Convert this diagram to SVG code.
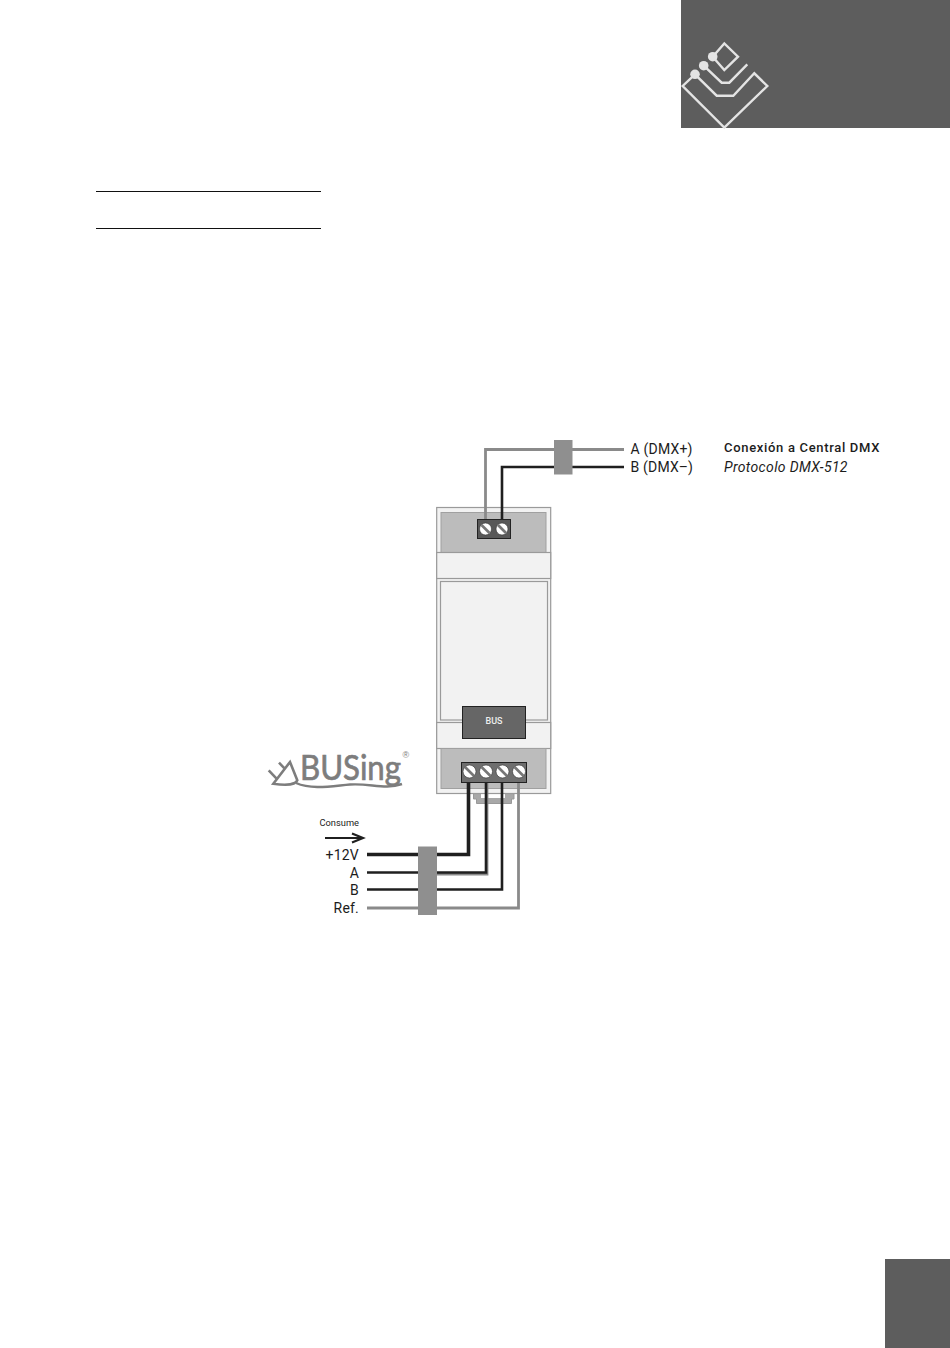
<svg xmlns="http://www.w3.org/2000/svg" width="950" height="1348" viewBox="0 0 950 1348">
<style>
.t{font-family:Roboto,"Liberation Sans",Arial,sans-serif;fill:#1c1c1c}
.lab{font-size:14px;letter-spacing:.2px}
.end{text-anchor:end}
.w{fill:none;stroke-linejoin:miter}
.blk{stroke:#1f1f1f;stroke-width:2.6}
.blkT{stroke:#1f1f1f;stroke-width:3.6}
.gry{stroke:#8a8a8a;stroke-width:2.8}
.lg{fill:none;stroke:#e4e4e4;stroke-width:2.4}
.dv{fill:#f2f2f2;stroke:#9a9a9a;stroke-width:1.2}
.scr{fill:#fff;stroke:#333;stroke-width:.6}
.sl{stroke:#777;stroke-width:2.6}
.blockc{fill:#8f8f8f}
</style>
<rect width="950" height="1348" fill="#fff"/>
<g id="header">
<rect x="681" y="0" width="269" height="128" fill="#5d5d5d"/>
<g class="lg">
<path d="M712.7 56.7L724.3 43.5L738 56.7L724.3 70L712.7 56.7"/>
<path d="M703.7 65.7L721.7 82.7H729.3L747.3 64.3"/>
<path d="M695 74.3L716.7 95.700H733.3L754.3 73.3L767.3 86L724.3 127.500L682.7 86L695 74.3"/>
</g>
<circle cx="712.7" cy="56.7" r="4.8" fill="#e4e4e4"/>
<circle cx="703.7" cy="65.7" r="4.8" fill="#e4e4e4"/>
<circle cx="695" cy="74.3" r="4.8" fill="#e4e4e4"/>
</g>
<g id="rules" stroke="#111" stroke-width="1">
<line x1="96" y1="191.500" x2="321" y2="191.500"/>
<line x1="96" y1="228.500" x2="321" y2="228.500"/>
</g>
<rect id="page-tab" x="885" y="1259" width="65" height="89" fill="#5d5d5d"/>
<g id="din-clip">
<path d="M473.500 793.500V799H476.500V803.500H511.500V799H514V793.500" fill="#a8a8a8" stroke="#999" stroke-width="1"/>
<rect x="481" y="793" width="24" height="5" fill="#fff"/>
</g>
<g id="device">
<rect class="dv" x="436.700" y="507.500" width="114" height="286"/>
<rect x="441" y="512.500" width="105" height="40" fill="#bcbcbc" stroke="#a0a0a0"/>
<rect class="dv" x="436.700" y="552.500" width="114" height="26"/>
<rect class="dv" x="440.500" y="581.500" width="107" height="138.500"/>
<rect class="dv" x="436.700" y="722.500" width="114" height="26"/>
<rect x="441" y="748.500" width="105" height="40" fill="#bcbcbc" stroke="#a0a0a0"/>
</g>
<g id="bus-module">
<rect x="462.500" y="706.500" width="63" height="32" fill="#666" stroke="#222"/>
<text x="494" y="724" class="t" text-anchor="middle" font-size="9" font-weight="500" style="fill:#eee">BUS</text>
</g>
<g id="terminal-top">
<rect x="477.500" y="519.500" width="33" height="19" fill="#585858" stroke="#222"/>
<circle class="scr" cx="485.500" cy="529" r="6"/><line class="sl" x1="481.500" y1="525" x2="489.500" y2="533"/>
<circle class="scr" cx="502" cy="529" r="6"/><line class="sl" x1="498" y1="525" x2="506" y2="533"/>
</g>
<g id="terminal-bottom">
<rect x="461.500" y="762.500" width="65" height="20" fill="#6e6e6e" stroke="#222"/>
<circle class="scr" cx="469.500" cy="771.500" r="6.500"/><line class="sl" x1="465" y1="767" x2="474" y2="776"/>
<circle class="scr" cx="486" cy="771.500" r="6.500"/><line class="sl" x1="481.500" y1="767" x2="490.500" y2="776"/>
<circle class="scr" cx="502.500" cy="771.500" r="6.500"/><line class="sl" x1="498" y1="767" x2="507" y2="776"/>
<circle class="scr" cx="519" cy="771.500" r="6.500"/><line class="sl" x1="514.500" y1="767" x2="523.500" y2="776"/>
</g>
<g id="connectors">
<path class="w gry" d="M485.500 519V449.500H624"/>
<path class="w blk" d="M502 519V467H624"/>
<path class="w blkT" d="M367 854.500H468.500V783"/>
<path class="w gry" d="M487 783V874H437" stroke-width="1.500"/>
<path class="w blk" d="M367 872.500H486V783"/>
<path class="w blk" d="M367 889.500H502V783"/>
<path class="w gry" d="M367 908H518.500V783"/>
<path class="w" stroke="#1f1f1f" stroke-width="2" d="M325 838H362"/>
<path class="w" stroke="#1f1f1f" stroke-width="2.200" d="M352 833.500L363 838L352 842.500"/>
</g>
<g id="junction-top"><rect class="blockc" x="554" y="440" width="18.500" height="34.500"/></g>
<g id="junction-bottom"><rect class="blockc" x="418" y="846.500" width="19" height="68.500"/></g>
<g id="labels-right">
<text class="t lab" x="630.500" y="454">A (DMX+)</text>
<text class="t lab" x="630.500" y="472">B (DMX–)</text>
<text class="t" x="724" y="451.500" font-size="13" font-weight="500" letter-spacing=".68">Conexión a Central DMX</text>
<text class="t" x="724" y="472" font-size="14" font-style="italic" letter-spacing=".35">Protocolo DMX-512</text>
</g>
<g id="labels-left">
<text class="t" x="359" y="826" font-size="9.300" text-anchor="end">Consume</text>
<text class="t lab end" x="359" y="860">+12V</text>
<text class="t lab end" x="359" y="877.500">A</text>
<text class="t lab end" x="359" y="895">B</text>
<text class="t lab end" x="359" y="913">Ref.</text>
</g>
<g id="busing-logo" fill="none" stroke="#7d7d7d">
<text x="300" y="780" font-family="Lato,'Open Sans',sans-serif" font-size="34" textLength="101" lengthAdjust="spacingAndGlyphs" stroke-width=".7" style="fill:#7d7d7d">BUSing</text>
<path d="M268.700 770.300L277.300 779.300M279 762.700L284.700 768.700M273.300 783.700L290 762L297.300 780.300C296 784 288 786 273.300 783.700Z" stroke-width="2.600"/>
<path d="M296 783C312 790 332 786 350 784.500C370 783 385 790 402 784" stroke-width="2.400"/>
<text x="402.500" y="757.500" font-family="'Liberation Sans',sans-serif" font-size="9" stroke="none" style="fill:#7d7d7d">®</text>
</g>
</svg>
